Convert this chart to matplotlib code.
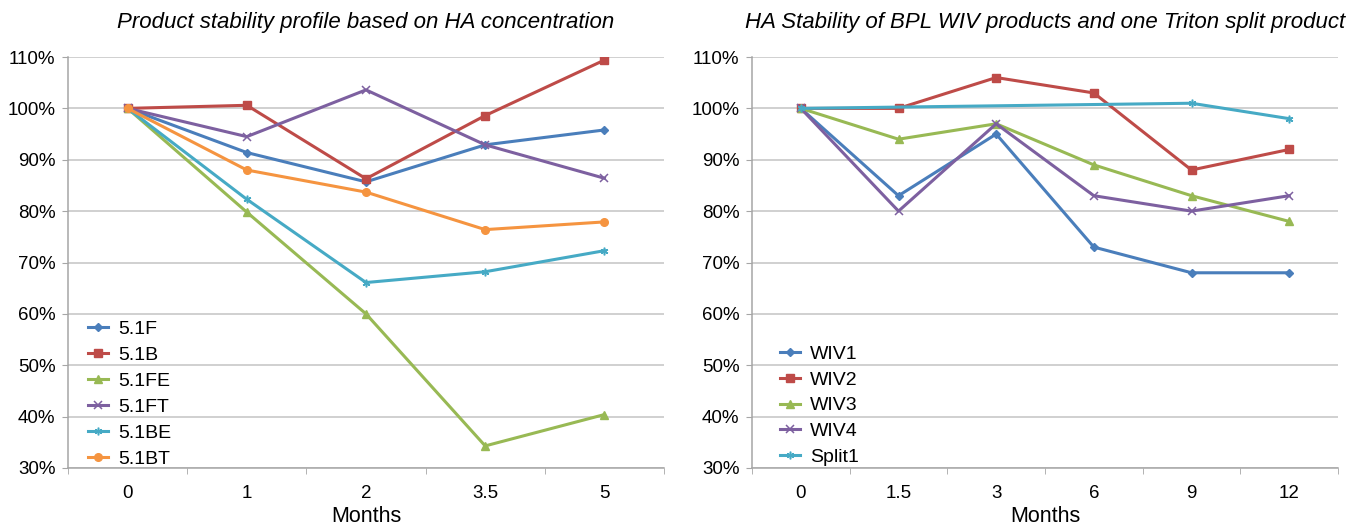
import numpy as np
import matplotlib
matplotlib.use("Agg")
import matplotlib.pyplot as plt
from matplotlib.ticker import FuncFormatter, FixedLocator

plt.rcParams['font.family'] = ['Liberation Sans', 'DejaVu Sans']

# left panel data
meses_esq = ["0", "1", "2", "3.5", "5"]
f51 = [100, 91.4, 85.7, 92.9, 95.8]
b51 = [100, 100.6, 86.3, 98.6, 109.4]
fe51 = [100, 79.8, 60.0, 34.3, 40.4]
ft51 = [100, 94.5, 103.6, 92.9, 86.4]
be51 = [100, 82.3, 66.1, 68.2, 72.3]
bt51 = [100, 88.0, 83.7, 76.4, 77.9]

# right panel data
meses_dir = ["0", "1.5", "3", "6", "9", "12"]
wiv1 = [100, 83, 95, 73, 68, 68]
wiv2 = [100, 100, 106, 103, 88, 92]
wiv3 = [100, 94, 97, 89, 83, 78]
wiv4 = [100, 80, 97, 83, 80, 83]
split1_idx = [0, 4, 5]  # only measured at 0, 9, 12
split1 = [100, 101, 98]

azul = "#4A7EBB"
vermelho = "#BE4B48"
verde = "#98B954"
roxo = "#7D60A0"
ciano = "#46AAC5"
laranja = "#F59440"
cinza_grade = "#C4C4C4"
cinza_eixo = "#A6A6A6"

fig = plt.figure(figsize=(13.46, 5.29), dpi=100)
W, H = 1346, 529
ax1 = fig.add_axes([68 / W, (529 - 468) / H, 596 / W, 411 / H])
ax2 = fig.add_axes([752 / W, (529 - 468) / H, 586 / W, 411 / H])

estilo = dict(linewidth=2.2, markersize=5.5)

x1 = np.arange(len(meses_esq))
ax1.plot(x1, f51, color=azul, marker="D", markersize=4.5, linewidth=2.2, label="5.1F")
ax1.plot(x1, b51, color=vermelho, marker="s", label="5.1B", **estilo)
ax1.plot(x1, fe51, color=verde, marker="^", label="5.1FE", **estilo)
ax1.plot(x1, ft51, color=roxo, marker="x", markeredgewidth=1.1, label="5.1FT", **estilo)
ax1.plot(x1, be51, color=ciano, marker=(6, 2, 0), markeredgewidth=1.1, label="5.1BE", **estilo)
ax1.plot(x1, bt51, color=laranja, marker="o", label="5.1BT", **estilo)

x2 = np.arange(len(meses_dir))
ax2.plot(x2, wiv1, color=azul, marker="D", markersize=4.5, linewidth=2.2, label="WIV1")
ax2.plot(x2, wiv2, color=vermelho, marker="s", label="WIV2", **estilo)
ax2.plot(x2, wiv3, color=verde, marker="^", label="WIV3", **estilo)
ax2.plot(x2, wiv4, color=roxo, marker="x", markeredgewidth=1.1, label="WIV4", **estilo)
ax2.plot(np.array(split1_idx), split1, color=ciano, marker=(6, 2, 0), markeredgewidth=1.1,
         label="Split1", **estilo)

titulos = ["Product stability profile based on HA concentration",
           "HA Stability of BPL WIV products and one Triton split product"]

for ax, cats, tit in [(ax1, meses_esq, titulos[0]), (ax2, meses_dir, titulos[1])]:
    n = len(cats)
    ax.set_xlim(-0.5, n - 0.5)
    ax.set_ylim(30, 110)
    ax.set_xticks(np.arange(n))
    ax.set_xticklabels(cats)
    ax.xaxis.set_minor_locator(FixedLocator(np.arange(n + 1) - 0.5))
    ax.tick_params(axis="x", which="major", length=0, labelsize=13.5, pad=12)
    ax.tick_params(axis="x", which="minor", length=4, color=cinza_eixo)
    ax.set_yticks(np.arange(30, 111, 10))
    ax.yaxis.set_major_formatter(FuncFormatter(lambda v, p: f"{v:.0f}%"))
    ax.tick_params(axis="y", length=4, color=cinza_eixo, labelsize=13.5, pad=5)
    ax.grid(axis="y", color=cinza_grade, linewidth=1.1)
    ax.set_axisbelow(True)
    for s in ["top", "right"]:
        ax.spines[s].set_visible(False)
    for s in ["left", "bottom"]:
        ax.spines[s].set_color(cinza_eixo)
        ax.spines[s].set_linewidth(1.1)
    ax.set_xlabel("Months", fontsize=15.5, labelpad=3)
    ax.set_title(tit, fontsize=16, style="italic", pad=21)

ax1.legend(loc="lower left", bbox_to_anchor=(88 / W, 61 / H), bbox_transform=fig.transFigure,
           frameon=False, fontsize=14, handlelength=1.05, handletextpad=0.5,
           labelspacing=0.43, borderaxespad=0, borderpad=0)
ax2.legend(loc="lower left", bbox_to_anchor=(780 / W, 63 / H), bbox_transform=fig.transFigure,
           frameon=False, fontsize=14, handlelength=1.05, handletextpad=0.5,
           labelspacing=0.42, borderaxespad=0, borderpad=0)

fig.savefig("out.png", dpi=100)
